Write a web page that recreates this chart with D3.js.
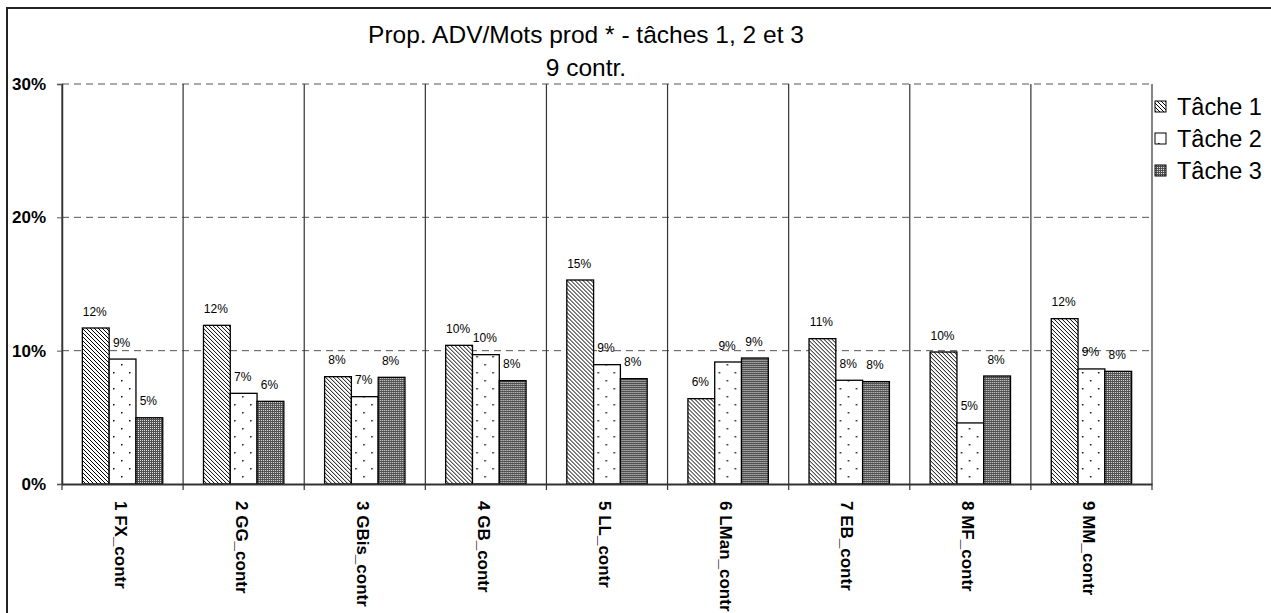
<!DOCTYPE html>
<html>
<head>
<meta charset="utf-8">
<script src="https://cdn.jsdelivr.net/npm/d3@7"></script>
<style>
  body { margin: 0; background: #fff; }
  text { font-family: Arial, "Liberation Sans", sans-serif; fill: #000; }
</style>
</head>
<body>
<div id="canvas"></div>
<script>
const categories = ["1 FX_contr", "2 GG_contr", "3 GBis_contr", "4 GB_contr", "5 LL_contr",
                    "6 LMan_contr", "7 EB_contr", "8 MF_contr", "9 MM_contr"];
const series = ["Tâche 1", "Tâche 2", "Tâche 3"];
const tache1 = [0.117, 0.119, 0.0805, 0.104, 0.153, 0.064, 0.109, 0.099, 0.124];
const tache2 = [0.0937, 0.068, 0.0655, 0.097, 0.0895, 0.0915, 0.0778, 0.0458, 0.0863];
const tache3 = [0.0497, 0.062, 0.080, 0.0775, 0.079, 0.0945, 0.0768, 0.081, 0.0845];
const yTicks = [0, 0.1, 0.2, 0.3];

const w = 1271, h = 613;
const margin = { top: 84, left: 62, right: 119, bottom: 129 };

const svg = d3.select("#canvas").append("svg")
  .attr("width", w).attr("height", h);

// patterns
const defs = svg.append("defs");
const p1 = defs.append("pattern").attr("id", "pat1")
  .attr("patternUnits", "userSpaceOnUse").attr("width", 4).attr("height", 4);
p1.append("rect").attr("width", 4).attr("height", 4).attr("fill", "#fff");
p1.append("path").attr("d", "M-1,-1L5,5M-1,3L1,5M3,-1L5,1")
  .attr("stroke", "#000").attr("stroke-width", 1);

const p2 = defs.append("pattern").attr("id", "pat2")
  .attr("patternUnits", "userSpaceOnUse").attr("width", 16).attr("height", 16);
p2.append("rect").attr("width", 16).attr("height", 16).attr("fill", "#fff");
p2.append("rect").attr("x", 3).attr("y", 4).attr("width", 1.5).attr("height", 1.5).attr("fill", "#111");
p2.append("rect").attr("x", 11).attr("y", 12).attr("width", 1.5).attr("height", 1.5).attr("fill", "#111");

const p3 = defs.append("pattern").attr("id", "pat3")
  .attr("patternUnits", "userSpaceOnUse").attr("width", 2).attr("height", 2);
p3.append("rect").attr("width", 2).attr("height", 2).attr("fill", "#505050");
p3.append("rect").attr("width", 1).attr("height", 1).attr("fill", "#e0e0e0");

const fills = ["url(#pat1)", "url(#pat2)", "url(#pat3)"];

// outer frame
svg.append("rect").attr("x", 7).attr("y", 8).attr("width", 1400).attr("height", 800)
  .attr("fill", "none").attr("stroke", "#222").attr("stroke-width", 2);

const width = w - margin.left - margin.right;
const height = h - margin.top - margin.bottom;

const x0 = d3.scaleBand().domain(categories).range([margin.left, margin.left + width]).padding(0);
const x1 = d3.scaleBand().domain(series).range([0, x0.bandwidth()]).paddingInner(0).paddingOuter(0.76);
const y = d3.scaleLinear().domain([0, 0.3]).range([margin.top + height, margin.top]);

// dashed gridlines
svg.append("g").selectAll("line").data(yTicks.filter(d => d > 0)).join("line")
  .attr("x1", margin.left).attr("x2", margin.left + width)
  .attr("y1", d => y(d)).attr("y2", d => y(d))
  .attr("stroke", "#555").attr("stroke-width", 1).attr("stroke-dasharray", "7,5");

// category dividers
const bounds = categories.map(c => x0(c)).concat([margin.left + width]);
svg.append("g").selectAll("line").data(bounds).join("line")
  .attr("x1", d => d).attr("x2", d => d)
  .attr("y1", margin.top).attr("y2", margin.top + height + 6)
  .attr("stroke", "#333").attr("stroke-width", 1.2);

// bars
const rows = categories.map((c, i) => ({ cat: c, vals: [tache1[i], tache2[i], tache3[i]] }));
const fmt = d3.format(".0%");
const groups = svg.append("g").selectAll("g").data(rows).join("g")
  .attr("transform", d => `translate(${x0(d.cat)},0)`);

groups.selectAll("rect").data(d => d.vals.map((v, k) => ({ s: series[k], v: v, k: k }))).join("rect")
  .attr("x", d => x1(d.s))
  .attr("y", d => y(d.v))
  .attr("width", x1.bandwidth())
  .attr("height", d => y(0) - y(d.v))
  .attr("fill", d => fills[d.k])
  .attr("stroke", "#000").attr("stroke-width", 1.3);

groups.selectAll("text").data(d => d.vals.map((v, k) => ({ s: series[k], v: v }))).join("text")
  .attr("x", d => x1(d.s) + x1.bandwidth() / 2 - 1)
  .attr("y", d => y(d.v) - 12.5)
  .attr("text-anchor", "middle")
  .style("font-size", "12px")
  .text(d => fmt(d.v));

// y axis
const yAxis = svg.append("g").attr("transform", `translate(${margin.left},0)`)
  .call(d3.axisLeft(y).tickValues(yTicks).tickFormat(fmt).tickSize(5).tickPadding(11));
yAxis.select(".domain").attr("stroke", "#333").attr("stroke-width", 1.5);
yAxis.selectAll(".tick line").attr("stroke", "#555");
yAxis.selectAll("text").style("font-size", "17px").style("font-weight", "bold");

// x axis
const xAxis = svg.append("g").attr("transform", `translate(0,${y(0)})`)
  .call(d3.axisBottom(x0).tickSize(0).tickPadding(0));
xAxis.select(".domain").attr("stroke", "#333").attr("stroke-width", 2);
xAxis.selectAll(".tick text")
  .attr("transform", "translate(-2,17) rotate(90)")
  .attr("y", 0).attr("x", 0).attr("dy", "0.35em")
  .attr("text-anchor", "start")
  .style("font-size", "17px").style("font-weight", "bold");

// title
svg.append("text").attr("x", 586).attr("y", 43).attr("text-anchor", "middle")
  .style("font-size", "24.5px").text("Prop. ADV/Mots prod * - tâches 1, 2 et 3");
svg.append("text").attr("x", 586).attr("y", 76).attr("text-anchor", "middle")
  .style("font-size", "24.5px").text("9 contr.");

// legend
const legend = svg.append("g").selectAll("g").data(series).join("g")
  .attr("transform", (d, i) => `translate(1155,${107 + i * 32})`);
legend.append("rect").attr("x", 0).attr("y", -6).attr("width", 11).attr("height", 11)
  .attr("fill", (d, i) => fills[i]).attr("stroke", "#000").attr("stroke-width", 1);
legend.append("text").attr("x", 22).attr("y", 0).attr("dy", "0.35em")
  .style("font-size", "23.5px").text(d => d);
</script>
</body>
</html>
